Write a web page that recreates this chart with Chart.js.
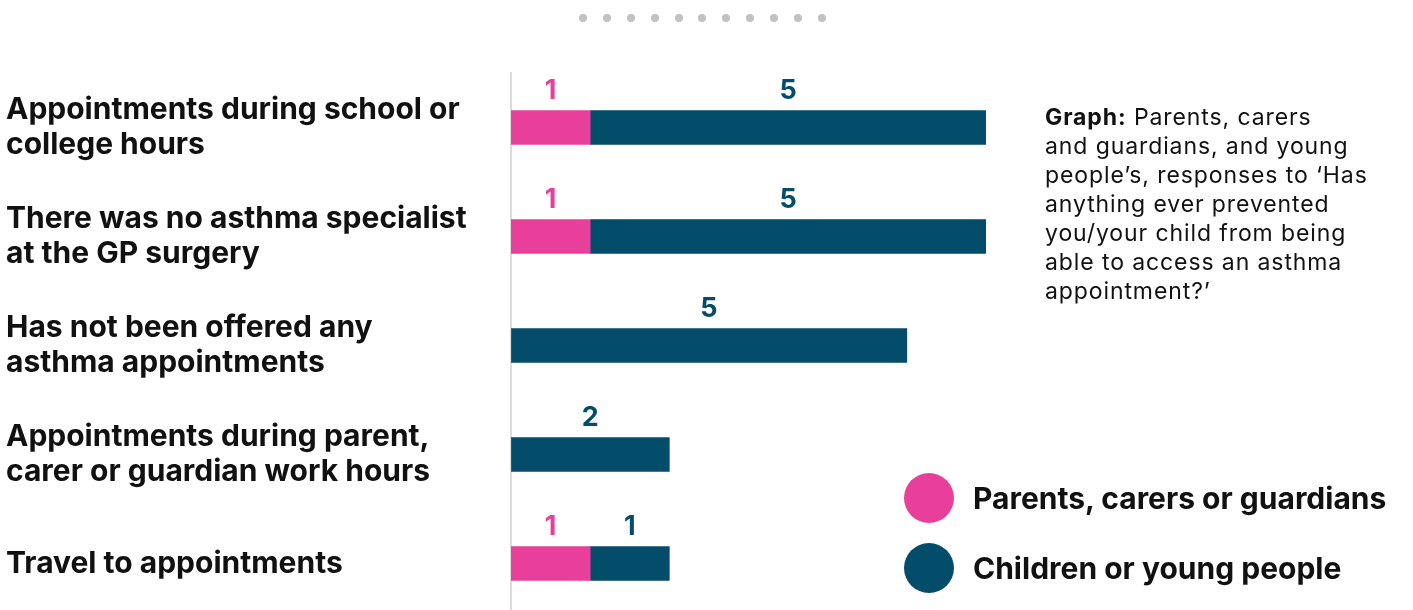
<!DOCTYPE html>
<html>
<head>
<meta charset="utf-8">
<script src="https://cdn.jsdelivr.net/npm/chart.js@4.4.1/dist/chart.umd.min.js"></script>
<style>
  html, body { margin: 0; padding: 0; background: #ffffff; overflow: hidden; }
  body { width: 1413px; height: 610px; position: relative; font-family: Inter, sans-serif; }
  #wrap { position: absolute; left: 0; top: 0; width: 1413px; height: 620px; }
  #dots { position: absolute; top: 14px; left: 579px; display: flex; gap: 15.9px; }
  #dots span { width: 8px; height: 8px; border-radius: 50%; background: #c1c1c4; display: block; }
  #note { position: absolute; left: 1045px; top: 103px; font-size: 23px; letter-spacing: 0.9px; line-height: 29px; color: #111; white-space: nowrap; }
  #note b { font-weight: 700; }
  #legend { position: absolute; left: 904px; top: 473px; }
  .item { display: flex; align-items: center; height: 50px; margin-bottom: 20px; }
  .sw { width: 50px; height: 50px; border-radius: 50%; margin-right: 19px; flex: none; }
  .lbl { font-size: 30px; font-weight: 700; color: #111; white-space: nowrap; }
</style>
</head>
<body>
<div id="dots"></div>
<div id="wrap"><canvas id="c" width="1413" height="620"></canvas></div>
<div id="note"><b>Graph:</b> Parents, carers<br>and guardians, and young<br>people’s, responses to ‘Has<br>anything ever prevented<br>you/your child from being<br>able to access an asthma<br>appointment?’</div>
<div id="legend"></div>
<script>
// Barriers to getting an asthma appointment
const categories = [
  ["Appointments during school or", "college hours"],
  ["There was no asthma specialist", "at the GP surgery"],
  ["Has not been offered any", "asthma appointments"],
  ["Appointments during parent,", "carer or guardian work hours"],
  ["Travel to appointments"]
];
const seriesNames = ["Parents, carers or guardians", "Children or young people"];
const parentsValues = [1, 1, 0, 0, 1];
const youngPeopleValues = [5, 5, 5, 2, 1];
const seriesColors = ["#e8409a", "#034d6a"];
const pageCount = 11;

// carousel dots
const dots = document.getElementById('dots');
for (let i = 0; i < pageCount; i++) dots.appendChild(document.createElement('span'));

// legend
const legend = document.getElementById('legend');
seriesNames.forEach((name, i) => {
  const it = document.createElement('div');
  it.className = 'item';
  it.innerHTML = '<span class="sw" style="background:' + seriesColors[i] + '"></span><span class="lbl">' + name + '</span>';
  legend.appendChild(it);
});

const FONT = 'Inter, sans-serif';

// value labels above each segment
const valueLabels = {
  id: 'valueLabels',
  afterDatasetsDraw(chart) {
    const ctx = chart.ctx;
    ctx.save();
    ctx.font = '700 27px ' + FONT;
    ctx.textAlign = 'center';
    ctx.textBaseline = 'middle';
    chart.data.datasets.forEach((ds, di) => {
      const meta = chart.getDatasetMeta(di);
      meta.data.forEach((bar, i) => {
        const v = ds.data[i];
        if (!v) return;
        const p = bar.getProps(['x', 'y', 'base', 'height'], true);
        ctx.fillStyle = ds.backgroundColor;
        ctx.fillText(String(v), (p.x + p.base) / 2, p.y - p.height / 2 - 20);
      });
    });
    ctx.restore();
  }
};

new Chart(document.getElementById('c'), {
  type: 'bar',
  data: {
    labels: categories,
    datasets: [
      { label: seriesNames[0], data: parentsValues, backgroundColor: seriesColors[0] },
      { label: seriesNames[1], data: youngPeopleValues, backgroundColor: seriesColors[1] }
    ]
  },
  options: {
    indexAxis: 'y',
    responsive: false,
    animation: false,
    layout: { padding: { left: 6, right: 427, top: 73, bottom: 2 } },
    barThickness: 34,
    plugins: { legend: { display: false }, tooltip: { enabled: false } },
    scales: {
      x: { stacked: true, min: 0, max: 6, display: false },
      y: {
        stacked: true,
        grid: { display: false, drawTicks: false },
        border: { display: true, color: '#dcdcdc', width: 2 },
        ticks: {
          crossAlign: 'far',
          padding: 0,
          color: '#111',
          font: { family: FONT, size: 30, weight: '700', lineHeight: 1.17 }
        },
        afterFit(scale) {
          scale.width = 505;
          scale.paddingTop = 0;
          scale.paddingBottom = 0;
        }
      }
    }
  },
  plugins: [valueLabels]
});
</script>
</body>
</html>
